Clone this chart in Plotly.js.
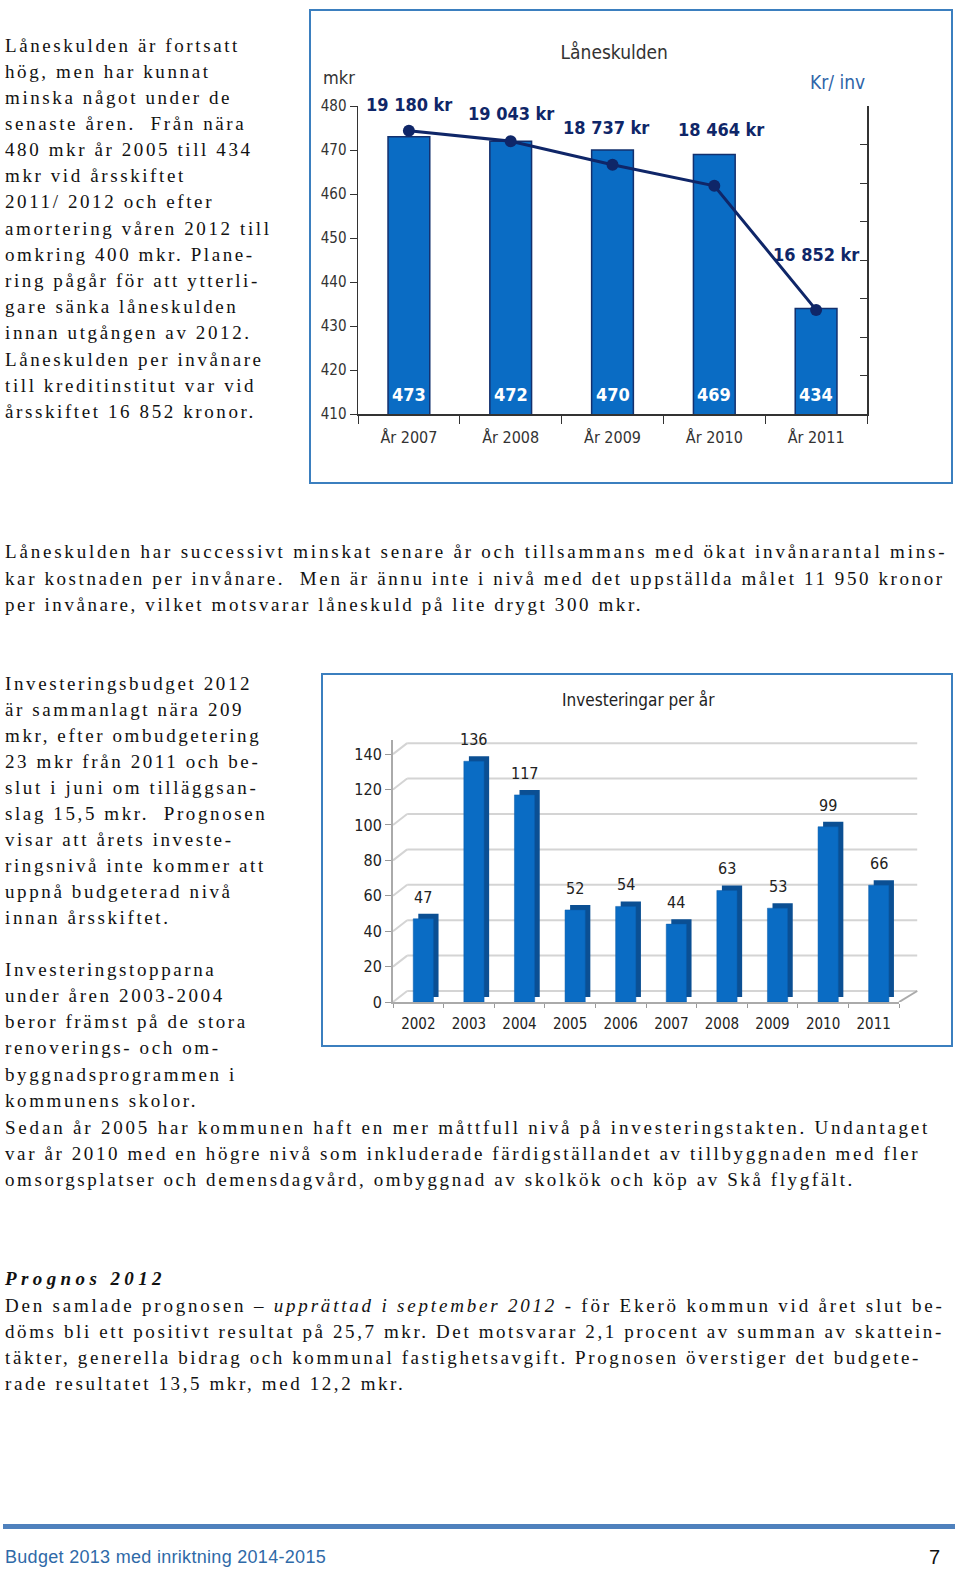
<!DOCTYPE html>
<html><head><meta charset="utf-8">
<script src="https://cdn.plot.ly/plotly-3.0.1.min.js"></script>
<style>
body{margin:0;width:960px;height:1572px;position:relative;background:#fff;overflow:hidden}
.t{position:absolute;left:5px;font-family:'Liberation Serif','Times New Roman',serif;font-size:19px;letter-spacing:2.6px;white-space:nowrap;color:#111;line-height:26px;height:26px}
.box{position:absolute;box-sizing:border-box;border:2px solid #3b7fbf;pointer-events:none}
#c1{position:absolute;left:309px;top:9px;width:644px;height:475px}
#c2{position:absolute;left:321px;top:673px;width:632px;height:374px}
.rule{position:absolute;left:3px;top:1524px;width:952px;height:5px;background:#4f81bd}
.foot{position:absolute;left:5px;top:1546px;font-family:'Liberation Sans',Arial,sans-serif;font-size:18px;line-height:22px;color:#2f6aa8;letter-spacing:0.3px;white-space:nowrap}
.pg{position:absolute;left:929px;top:1545px;font-family:'Liberation Sans',Arial,sans-serif;font-size:20px;line-height:24px;color:#111}
</style></head><body>

<div class="t" style="top:33px">Låneskulden är fortsatt</div>
<div class="t" style="top:59px">hög, men har kunnat</div>
<div class="t" style="top:85px">minska något under de</div>
<div class="t" style="top:111px">senaste åren.&nbsp; Från nära</div>
<div class="t" style="top:137px">480 mkr år 2005 till 434</div>
<div class="t" style="top:163px">mkr vid årsskiftet</div>
<div class="t" style="top:189px">2011/ 2012 och efter</div>
<div class="t" style="top:216px">amortering våren 2012 till</div>
<div class="t" style="top:242px">omkring 400 mkr. Plane-</div>
<div class="t" style="top:268px">ring pågår för att ytterli-</div>
<div class="t" style="top:294px">gare sänka låneskulden</div>
<div class="t" style="top:320px">innan utgången av 2012.</div>
<div class="t" style="top:347px">Låneskulden per invånare</div>
<div class="t" style="top:373px">till kreditinstitut var vid</div>
<div class="t" style="top:399px">årsskiftet 16 852 kronor.</div>

<div class="t" style="top:539px;letter-spacing:2.8px">Låneskulden har successivt minskat senare år och tillsammans med ökat invånarantal mins-</div>
<div class="t" style="top:566px">kar kostnaden per invånare.&nbsp; Men är ännu inte i nivå med det uppställda målet 11 950 kronor</div>
<div class="t" style="top:592px">per invånare, vilket motsvarar låneskuld på lite drygt 300 mkr.</div>

<div class="t" style="top:671px">Investeringsbudget 2012</div>
<div class="t" style="top:697px">är sammanlagt nära 209</div>
<div class="t" style="top:723px">mkr, efter ombudgetering</div>
<div class="t" style="top:749px">23 mkr från 2011 och be-</div>
<div class="t" style="top:775px">slut i juni om tilläggsan-</div>
<div class="t" style="top:801px">slag 15,5 mkr.&nbsp; Prognosen</div>
<div class="t" style="top:827px">visar att årets investe-</div>
<div class="t" style="top:853px">ringsnivå inte kommer att</div>
<div class="t" style="top:879px">uppnå budgeterad nivå</div>
<div class="t" style="top:905px">innan årsskiftet.</div>

<div class="t" style="top:957px">Investeringstopparna</div>
<div class="t" style="top:983px">under åren 2003-2004</div>
<div class="t" style="top:1009px">beror främst på de stora</div>
<div class="t" style="top:1035px">renoverings- och om-</div>
<div class="t" style="top:1062px">byggnadsprogrammen i</div>
<div class="t" style="top:1088px">kommunens skolor.</div>
<div class="t" style="top:1115px;letter-spacing:2.8px">Sedan år 2005 har kommunen haft en mer måttfull nivå på investeringstakten. Undantaget</div>
<div class="t" style="top:1141px">var år 2010 med en högre nivå som inkluderade färdigställandet av tillbyggnaden med fler</div>
<div class="t" style="top:1167px">omsorgsplatser och demensdagvård, ombyggnad av skolkök och köp av Skå flygfält.</div>

<div class="t" style="top:1266px;font-weight:bold;font-style:italic;letter-spacing:4.4px">Prognos 2012</div>
<div class="t" style="top:1293px;letter-spacing:2.8px">Den samlade prognosen – <i>upprättad i september 2012</i> - för Ekerö kommun vid året slut be-</div>
<div class="t" style="top:1319px">döms bli ett positivt resultat på 25,7 mkr. Det motsvarar 2,1 procent av summan av skattein-</div>
<div class="t" style="top:1345px">täkter, generella bidrag och kommunal fastighetsavgift. Prognosen överstiger det budgete-</div>
<div class="t" style="top:1371px">rade resultatet 13,5 mkr, med 12,2 mkr.</div>

<div id="c1"></div>
<div class="box" style="left:309px;top:9px;width:644px;height:475px"></div>
<div id="c2"></div>
<div class="box" style="left:321px;top:673px;width:632px;height:374px"></div>

<div class="rule"></div>
<div class="foot">Budget 2013 med inriktning 2014-2015</div>
<div class="pg">7</div>

<script>
// ---- Data: Låneskulden ----
const loanYears = ['År 2007', 'År 2008', 'År 2009', 'År 2010', 'År 2011'];
const loanMkr = [473, 472, 470, 469, 434];
const loanPerInv = [19180, 19043, 18737, 18464, 16852];
const loanPerInvLabels = ['19 180 kr', '19 043 kr', '18 737 kr', '18 464 kr', '16 852 kr'];

// ---- Data: Investeringar per år ----
const invYears = ['2002', '2003', '2004', '2005', '2006', '2007', '2008', '2009', '2010', '2011'];
const invMkr = [47, 136, 117, 52, 54, 44, 63, 53, 99, 66];
const invTicks = [0, 20, 40, 60, 80, 100, 120, 140];

// ---- Styling ----
const F = "'DejaVu Sans Condensed', 'Liberation Sans Narrow', sans-serif";
const NAVY = '#0f2668';
const BLUE = '#0a6cc4';
const lineLabelShift = [[0, 26], [0, 28], [-7, 37], [7, 56], [0, 55]];

const ann1 = [];
loanYears.forEach((c, i) => {
  ann1.push({x: i, y: 410, xref: 'x', yref: 'y', yanchor: 'bottom', yshift: 7, showarrow: false,
    text: String(loanMkr[i]), font: {family: F, size: 18, color: '#ffffff', weight: 'bold'}});
  ann1.push({x: i, y: loanPerInv[i], xref: 'x', yref: 'y2', yanchor: 'middle', xanchor: 'center',
    xshift: lineLabelShift[i][0], yshift: lineLabelShift[i][1], showarrow: false,
    text: loanPerInvLabels[i], font: {family: F, size: 18, color: NAVY, weight: 'bold'}});
});
ann1.push({x: -0.037, y: 1.094, xref: 'paper', yref: 'paper', xanchor: 'center', yanchor: 'middle',
  showarrow: false, text: 'mkr', font: {family: F, size: 18, color: '#333'}});
ann1.push({x: 0.943, y: 1.078, xref: 'paper', yref: 'paper', xanchor: 'center', yanchor: 'middle',
  showarrow: false, text: 'Kr/ inv', font: {family: F, size: 19, color: '#2f64a8'}});

Plotly.newPlot('c1', [
  {type: 'bar', x: loanYears, y: loanMkr, width: 0.41,
   marker: {color: BLUE, line: {color: '#13306e', width: 1.5}}, hoverinfo: 'none'},
  {type: 'scatter', mode: 'lines+markers', x: loanYears, y: loanPerInv, yaxis: 'y2',
   line: {color: NAVY, width: 3}, marker: {color: NAVY, size: 12}, hoverinfo: 'none'}
], {
  width: 644, height: 475, margin: {l: 49, r: 86, t: 97, b: 70},
  paper_bgcolor: 'rgba(0,0,0,0)', plot_bgcolor: 'rgba(0,0,0,0)',
  font: {family: F, size: 14, color: '#333'}, showlegend: false,
  title: {text: 'Låneskulden', xref: 'container', yref: 'container', x: 0.474, y: 0.909,
    xanchor: 'center', yanchor: 'middle', font: {family: F, size: 19, color: '#333'}},
  xaxis: {type: 'category', range: [-0.5, 4.5], tickson: 'boundaries', ticks: 'outside', ticklen: 8,
    tickcolor: '#333', showline: true, linecolor: '#333', linewidth: 1.5, showgrid: false,
    ticklabelstandoff: 8, tickfont: {family: F, size: 16, color: '#333'}},
  yaxis: {range: [410, 480], dtick: 10, ticks: 'outside', ticklen: 7, tickcolor: '#333',
    showline: true, linecolor: '#333', linewidth: 1.5, showgrid: false, zeroline: false,
    tickfont: {family: F, size: 15, color: '#333'}},
  yaxis2: {overlaying: 'y', side: 'right', range: [15500, 19500], dtick: 500, ticks: 'inside',
    ticklen: 7, tickcolor: '#333', showticklabels: false, showline: true, linecolor: '#333',
    linewidth: 1.5, showgrid: false, zeroline: false},
  annotations: ann1
}, {staticPlot: true, displayModeBar: false});

const ann2 = invYears.map((c, i) => ({x: i, y: invMkr[i], xref: 'x', yref: 'y', yanchor: 'bottom',
  xanchor: 'center', xshift: 5, yshift: 10, showarrow: false, text: String(invMkr[i]),
  font: {family: F, size: 16, color: '#222'}}));

// perspective (back-wall) gridlines, anchored at the tick values
const DEPTH_X = 0.028, DEPTH_PX = 11, BACK_END = 1.036;
const gridShapes = [];
invTicks.forEach(v => {
  gridShapes.push({type: 'line', layer: 'below', xref: 'paper', yref: 'y', ysizemode: 'pixel', yanchor: v,
    x0: 0, x1: DEPTH_X, y0: 0, y1: DEPTH_PX, line: {color: '#d4d4d4', width: 2}});
  gridShapes.push({type: 'line', layer: 'below', xref: 'paper', yref: 'y', ysizemode: 'pixel', yanchor: v,
    x0: DEPTH_X, x1: BACK_END, y0: DEPTH_PX, y1: DEPTH_PX, line: {color: '#d4d4d4', width: 2}});
});
gridShapes.push({type: 'line', layer: 'below', xref: 'paper', yref: 'y', ysizemode: 'pixel', yanchor: 0,
  x0: 1, x1: BACK_END, y0: 0, y1: DEPTH_PX, line: {color: '#aaaaaa', width: 2}});

Plotly.newPlot('c2', [
  {type: 'bar', x: invYears, y: invMkr, base: 2.8, width: 0.4, offset: 0.0,
   marker: {color: '#0b4f93'}, hoverinfo: 'none'},
  {type: 'bar', x: invYears, y: invMkr, width: 0.4, offset: -0.1,
   marker: {color: BLUE, line: {color: '#0a5aa8', width: 0.5}}, hoverinfo: 'none'}
], {
  width: 632, height: 374, margin: {l: 72, r: 54, t: 67, b: 45},
  barmode: 'overlay', showlegend: false,
  paper_bgcolor: 'rgba(0,0,0,0)', plot_bgcolor: 'rgba(0,0,0,0)',
  font: {family: F, size: 14, color: '#222'},
  title: {text: 'Investeringar per år', xref: 'container', yref: 'container', x: 0.502, y: 0.928,
    xanchor: 'center', yanchor: 'middle', font: {family: F, size: 17, color: '#222'}},
  xaxis: {type: 'category', range: [-0.5, 9.5], tickson: 'boundaries', ticks: 'outside', ticklen: 4,
    tickcolor: '#999', showline: true, linecolor: '#aaa', linewidth: 2, showgrid: false,
    ticklabelstandoff: 7, tickfont: {family: F, size: 15, color: '#222'}},
  yaxis: {range: [0, 148], tickvals: invTicks, ticks: 'outside', ticklen: 6, tickcolor: '#999',
    showline: true, linecolor: '#aaa', linewidth: 2, showgrid: false,
    zeroline: false, tickfont: {family: F, size: 16, color: '#222'}},
  shapes: gridShapes,
  annotations: ann2
}, {staticPlot: true, displayModeBar: false});
</script>
</body></html>
